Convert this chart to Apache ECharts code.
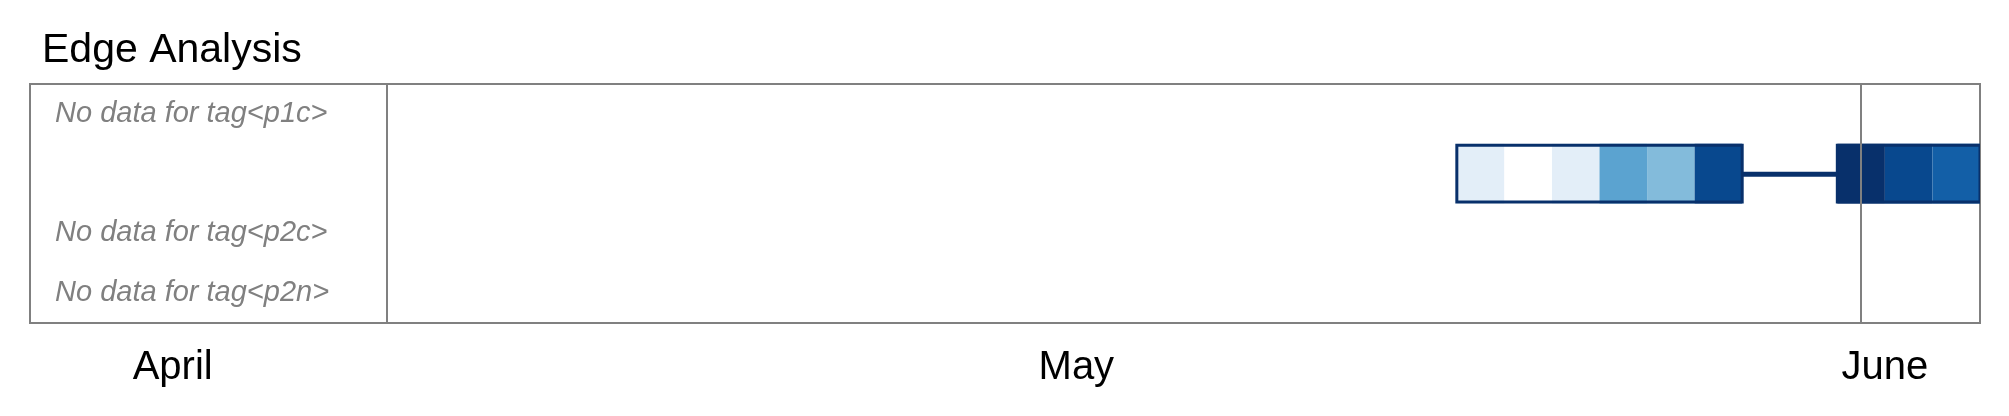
<!DOCTYPE html>
<html>
<head>
<meta charset="utf-8">
<title>Edge Analysis</title>
<script src="https://cdn.jsdelivr.net/npm/echarts@6/dist/echarts.min.js"></script>
<style>
  html, body { margin: 0; padding: 0; background: #ffffff; }
  #chart { width: 2009px; height: 416px; }
</style>
</head>
<body>
<div id="chart"></div>
<script>
// ---------------- data ----------------
const rows = ['p1c', 'p1n', 'p2c', 'p2n'];
const domainDates = ['2024-04-23T12:00', '2024-06-03T12:00'];
const monthTickDates = ['2024-04-26T12:00', '2024-05-15T12:00', '2024-06-01T12:00'];
const monthNames = ['January', 'February', 'March', 'April', 'May', 'June', 'July', 'August', 'September', 'October', 'November', 'December'];
const markerDates = ['2024-05-01', '2024-06-01'];

const cellRows   = ['p1n', 'p1n', 'p1n', 'p1n', 'p1n', 'p1n', 'p1n', 'p1n', 'p1n'];
const cellDates  = ['2024-05-24', '2024-05-25', '2024-05-26', '2024-05-27', '2024-05-28', '2024-05-29', '2024-06-01', '2024-06-02', '2024-06-03'];
const cellValues = [0.105, 0.00, 0.105, 0.55, 0.44, 0.91, 1.00, 0.91, 0.82];

const groupRows   = ['p1n', 'p1n'];
const groupStarts = ['2024-05-24', '2024-06-01'];
const groupEnds   = ['2024-05-29', '2024-06-03'];

const blues = ['#ffffff', '#deebf7', '#c6dbef', '#9ecae1', '#6baed6', '#4292c6', '#2171b5', '#08519c', '#08306b'];

// ---------------- helpers ----------------
function parseLocal(s) {
  const parts = s.split('T');
  const d = parts[0].split('-').map(Number);
  const t = (parts[1] || '00:00').split(':').map(Number);
  return new Date(d[0], d[1] - 1, d[2], t[0], t[1]).getTime();
}
const HALF_DAY = 12 * 3600 * 1000;
const rowsWithData = new Set(cellRows);

const cellData = cellDates.map((d, i) => [parseLocal(d), rows.indexOf(cellRows[i]), cellValues[i]]);
const groupData = groupStarts.map((s, i) => [parseLocal(s) - HALF_DAY, parseLocal(groupEnds[i]) + HALF_DAY, rows.indexOf(groupRows[i])]);
const connectorData = [];
for (let i = 0; i + 1 < groupData.length; i++) {
  if (groupData[i][2] === groupData[i + 1][2]) {
    connectorData.push([groupData[i][1], groupData[i + 1][0], groupData[i][2]]);
  }
}

const chart = echarts.init(document.getElementById('chart'), null, { renderer: 'canvas' });

const option = {
  animation: false,
  backgroundColor: '#ffffff',
  title: {
    text: 'Edge Analysis',
    left: 42,
    top: 30,
    padding: 0,
    textStyle: { fontFamily: 'Liberation Sans, Arial, sans-serif', fontSize: 41, fontWeight: 'normal', color: '#000000' }
  },
  grid: {
    left: 30, top: 84, width: 1950, height: 239,
    show: true, borderColor: '#808080', borderWidth: 2, backgroundColor: 'transparent',
    containLabel: false
  },
  visualMap: {
    type: 'continuous',
    show: false,
    min: 0, max: 1,
    dimension: 2,
    seriesIndex: 0,
    inRange: { color: blues }
  },
  xAxis: {
    type: 'value',
    min: parseLocal(domainDates[0]),
    max: parseLocal(domainDates[1]),
    axisLine: { show: false },
    axisTick: { show: false },
    splitLine: { show: false },
    axisLabel: {
      customValues: monthTickDates.map(parseLocal),
      formatter: function (v) { return monthNames[new Date(v).getMonth()]; },
      fontFamily: 'Liberation Sans, Arial, sans-serif',
      fontSize: 40,
      color: '#000000',
      margin: 45,
      verticalAlign: 'middle',
      hideOverlap: false
    }
  },
  yAxis: {
    type: 'category',
    data: rows,
    inverse: true,
    axisLine: { show: false },
    axisTick: { show: false },
    splitLine: { show: false },
    axisLabel: {
      inside: true,
      margin: 25,
      fontFamily: 'Liberation Sans, Arial, sans-serif',
      fontStyle: 'italic',
      fontSize: 29,
      color: '#808080',
      formatter: function (v) { return rowsWithData.has(v) ? '' : 'No data for tag<' + v + '>'; }
    }
  },
  series: [
    {
      name: 'cells',
      type: 'custom',
      z: 2,
      clip: true,
      encode: { x: 0, y: 1 },
      data: cellData,
      renderItem: function (params, api) {
        const t = api.value(0);
        const r = api.value(1);
        const p0 = api.coord([t - HALF_DAY, r]);
        const p1 = api.coord([t + HALF_DAY, r]);
        const h = api.size([0, 1])[1];
        return {
          type: 'rect',
          shape: { x: p0[0], y: p0[1] - h / 2, width: p1[0] - p0[0], height: h },
          style: { fill: api.visual('color') }
        };
      }
    },
    {
      name: 'outline',
      type: 'custom',
      z: 3,
      clip: true,
      encode: { x: [0, 1], y: 2 },
      data: groupData,
      renderItem: function (params, api) {
        const r = api.value(2);
        const p0 = api.coord([api.value(0), r]);
        const p1 = api.coord([api.value(1), r]);
        const h = api.size([0, 1])[1];
        return {
          type: 'rect',
          shape: { x: p0[0], y: p0[1] - h / 2 + 1.5, width: p1[0] - p0[0], height: h - 3 },
          style: { fill: null, stroke: '#08306b', lineWidth: 3 }
        };
      }
    },
    {
      name: 'connector',
      type: 'custom',
      z: 3,
      clip: true,
      encode: { x: [0, 1], y: 2 },
      data: connectorData,
      renderItem: function (params, api) {
        const r = api.value(2);
        const p0 = api.coord([api.value(0), r]);
        const p1 = api.coord([api.value(1), r]);
        return {
          type: 'line',
          shape: { x1: p0[0], y1: p0[1] + 0.5, x2: p1[0], y2: p1[1] + 0.5 },
          style: { stroke: '#08306b', lineWidth: 5 }
        };
      }
    },
    {
      name: 'markers',
      type: 'line',
      z: 5,
      data: [],
      markLine: {
        silent: true,
        symbol: ['none', 'none'],
        label: { show: false },
        emphasis: { disabled: true },
        lineStyle: { color: '#808080', width: 2, type: 'solid' },
        data: markerDates.map(d => ({ xAxis: parseLocal(d) }))
      }
    }
  ]
};

chart.setOption(option);
</script>
</body>
</html>
